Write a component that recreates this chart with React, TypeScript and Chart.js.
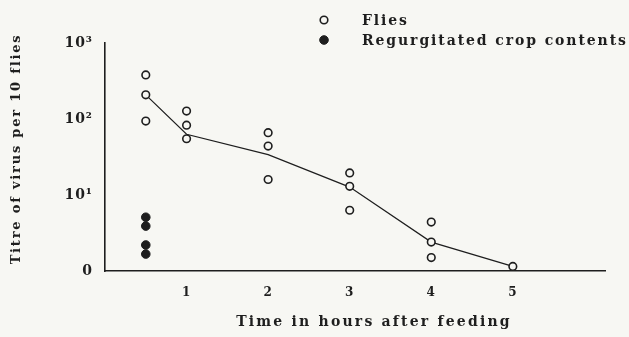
import { useEffect, useRef } from 'react';
import { Chart, registerables } from 'chart.js';

Chart.register(...registerables);

// ---- data ----
const fliesHours = [0.5, 0.5, 0.5, 1, 1, 1, 2, 2, 2, 3, 3, 3, 4, 4, 4, 5];
const fliesTitre = [380, 208, 94, 127, 83, 55, 66, 44, 16, 19.5, 13, 6.3, 4.4, 2.4, 1.5, 1.15];
const cropHours = [0.5, 0.5, 0.5, 0.5];
const cropTitre = [5.1, 3.9, 2.2, 1.67];
const meanHours = [0.5, 1, 2, 3, 4, 5];
const meanTitre = [208, 63, 34, 12.7, 2.4, 1.15];

const xTickValues = [1, 2, 3, 4, 5];
const xTickLabels = ['1', '2', '3', '4', '5'];
const yTickValues = [1, 10, 100, 1000];
const yTickLabels = ['0', '10¹', '10²', '10³'];

const seriesLabels = ['Flies', 'Regurgitated crop contents', 'Mean titre'];
const xTitle = 'Time in hours after feeding';
const yTitle = 'Titre of virus per 10 flies';

const INK = '#1e1e1e';
const PAPER = '#f7f7f3';
const FONT = '"DejaVu Serif", "Liberation Serif", serif';

const paperPlugin = {
  id: 'paper',
  beforeDraw(chart: any) {
    const ctx = chart.ctx;
    ctx.save();
    ctx.fillStyle = PAPER;
    ctx.fillRect(0, 0, chart.width, chart.height);
    ctx.restore();
    ctx.letterSpacing = '1px';
  },
};

const textPlugin = {
  id: 'texts',
  afterDraw(chart: any) {
    const ctx = chart.ctx;
    const area = chart.chartArea;
    ctx.save();
    ctx.fillStyle = INK;
    ctx.strokeStyle = INK;
    // axis titles
    ctx.textAlign = 'center';
    ctx.textBaseline = 'middle';
    ctx.font = `bold 14px ${FONT}`;
    ctx.letterSpacing = '2.2px';
    ctx.fillText(xTitle, area.left + 269, area.bottom + 51);
    ctx.save();
    ctx.translate(17, area.top + 106);
    ctx.rotate(-Math.PI / 2);
    ctx.font = `bold 13px ${FONT}`;
    ctx.letterSpacing = '1.8px';
    ctx.fillText(yTitle, 0, 0);
    ctx.restore();

    // legend
    const ds = chart.data.datasets;
    const rows = [0, 1];
    ctx.font = `bold 14px ${FONT}`;
    ctx.letterSpacing = '1.9px';
    ctx.textAlign = 'left';
    rows.forEach((i, r) => {
      const y = 20 + r * 20;
      const d = ds[i];
      ctx.beginPath();
      ctx.arc(324, y, d.pointRadius, 0, Math.PI * 2);
      ctx.fillStyle = d.backgroundColor;
      ctx.fill();
      ctx.lineWidth = d.borderWidth;
      ctx.strokeStyle = d.borderColor;
      ctx.stroke();
      ctx.fillStyle = INK;
      ctx.fillText(d.label, 362, y + 1);
    });
    ctx.restore();
  },
};

export default function App() {
  const ref = useRef<HTMLCanvasElement>(null);

  useEffect(() => {
    const chart = new Chart(ref.current as HTMLCanvasElement, {
      type: 'scatter',
      data: {
        datasets: [
          {
            label: seriesLabels[0],
            data: fliesHours.map((x, i) => ({ x, y: fliesTitre[i] })),
            pointStyle: 'circle',
            pointRadius: 3.8,
            borderWidth: 1.6,
            borderColor: INK,
            backgroundColor: PAPER,
          },
          {
            label: seriesLabels[1],
            data: cropHours.map((x, i) => ({ x, y: cropTitre[i] })),
            pointStyle: 'circle',
            pointRadius: 4.3,
            borderWidth: 1,
            borderColor: INK,
            backgroundColor: INK,
          },
          {
            label: seriesLabels[2],
            data: meanHours.map((x, i) => ({ x, y: meanTitre[i] })),
            showLine: true,
            pointRadius: 0,
            borderWidth: 1.2,
            borderColor: INK,
            backgroundColor: INK,
            tension: 0,
          },
        ],
      },
      options: {
        responsive: false,
        animation: false,
        events: [],
        layout: { padding: { top: 43, right: 24, bottom: 0, left: 0 } },
        plugins: {
          legend: { display: false },
          tooltip: { enabled: false },
        },
        scales: {
          x: {
            type: 'linear',
            min: 0,
            max: 6.13,
            grid: { display: false, drawTicks: false },
            border: { display: true, color: INK, width: 1.6 },
            ticks: {
              padding: 15,
              color: INK,
              font: { family: FONT, size: 12, weight: 'bold' },
              callback: (v: any) => {
                const k = xTickValues.indexOf(Number(v));
                return k >= 0 ? xTickLabels[k] : '';
              },
            },
            afterBuildTicks: (s: any) => {
              s.ticks = xTickValues.map((value) => ({ value }));
            },
            afterFit: (s: any) => {
              s.height = 66;
            },
          },
          y: {
            type: 'logarithmic',
            min: 1,
            max: 1000,
            grid: { display: false, drawTicks: false },
            border: { display: true, color: INK, width: 1.6 },
            ticks: {
              padding: 12,
              color: INK,
              font: { family: FONT, size: 14, weight: 'bold' },
              callback: (v: any) => {
                const k = yTickValues.indexOf(Number(v));
                return k >= 0 ? yTickLabels[k] : '';
              },
            },
            afterBuildTicks: (s: any) => {
              s.ticks = yTickValues.map((value) => ({ value }));
            },
            afterFit: (s: any) => {
              s.width = 105;
            },
          },
        },
      },
      plugins: [paperPlugin, textPlugin],
    });
    return () => chart.destroy();
  }, []);

  return (
    <div style={{ position: 'absolute', left: 0, top: 0, width: 629, height: 337, background: PAPER }}>
      <canvas ref={ref} width={629} height={337} style={{ display: 'block' }} />
    </div>
  );
}
